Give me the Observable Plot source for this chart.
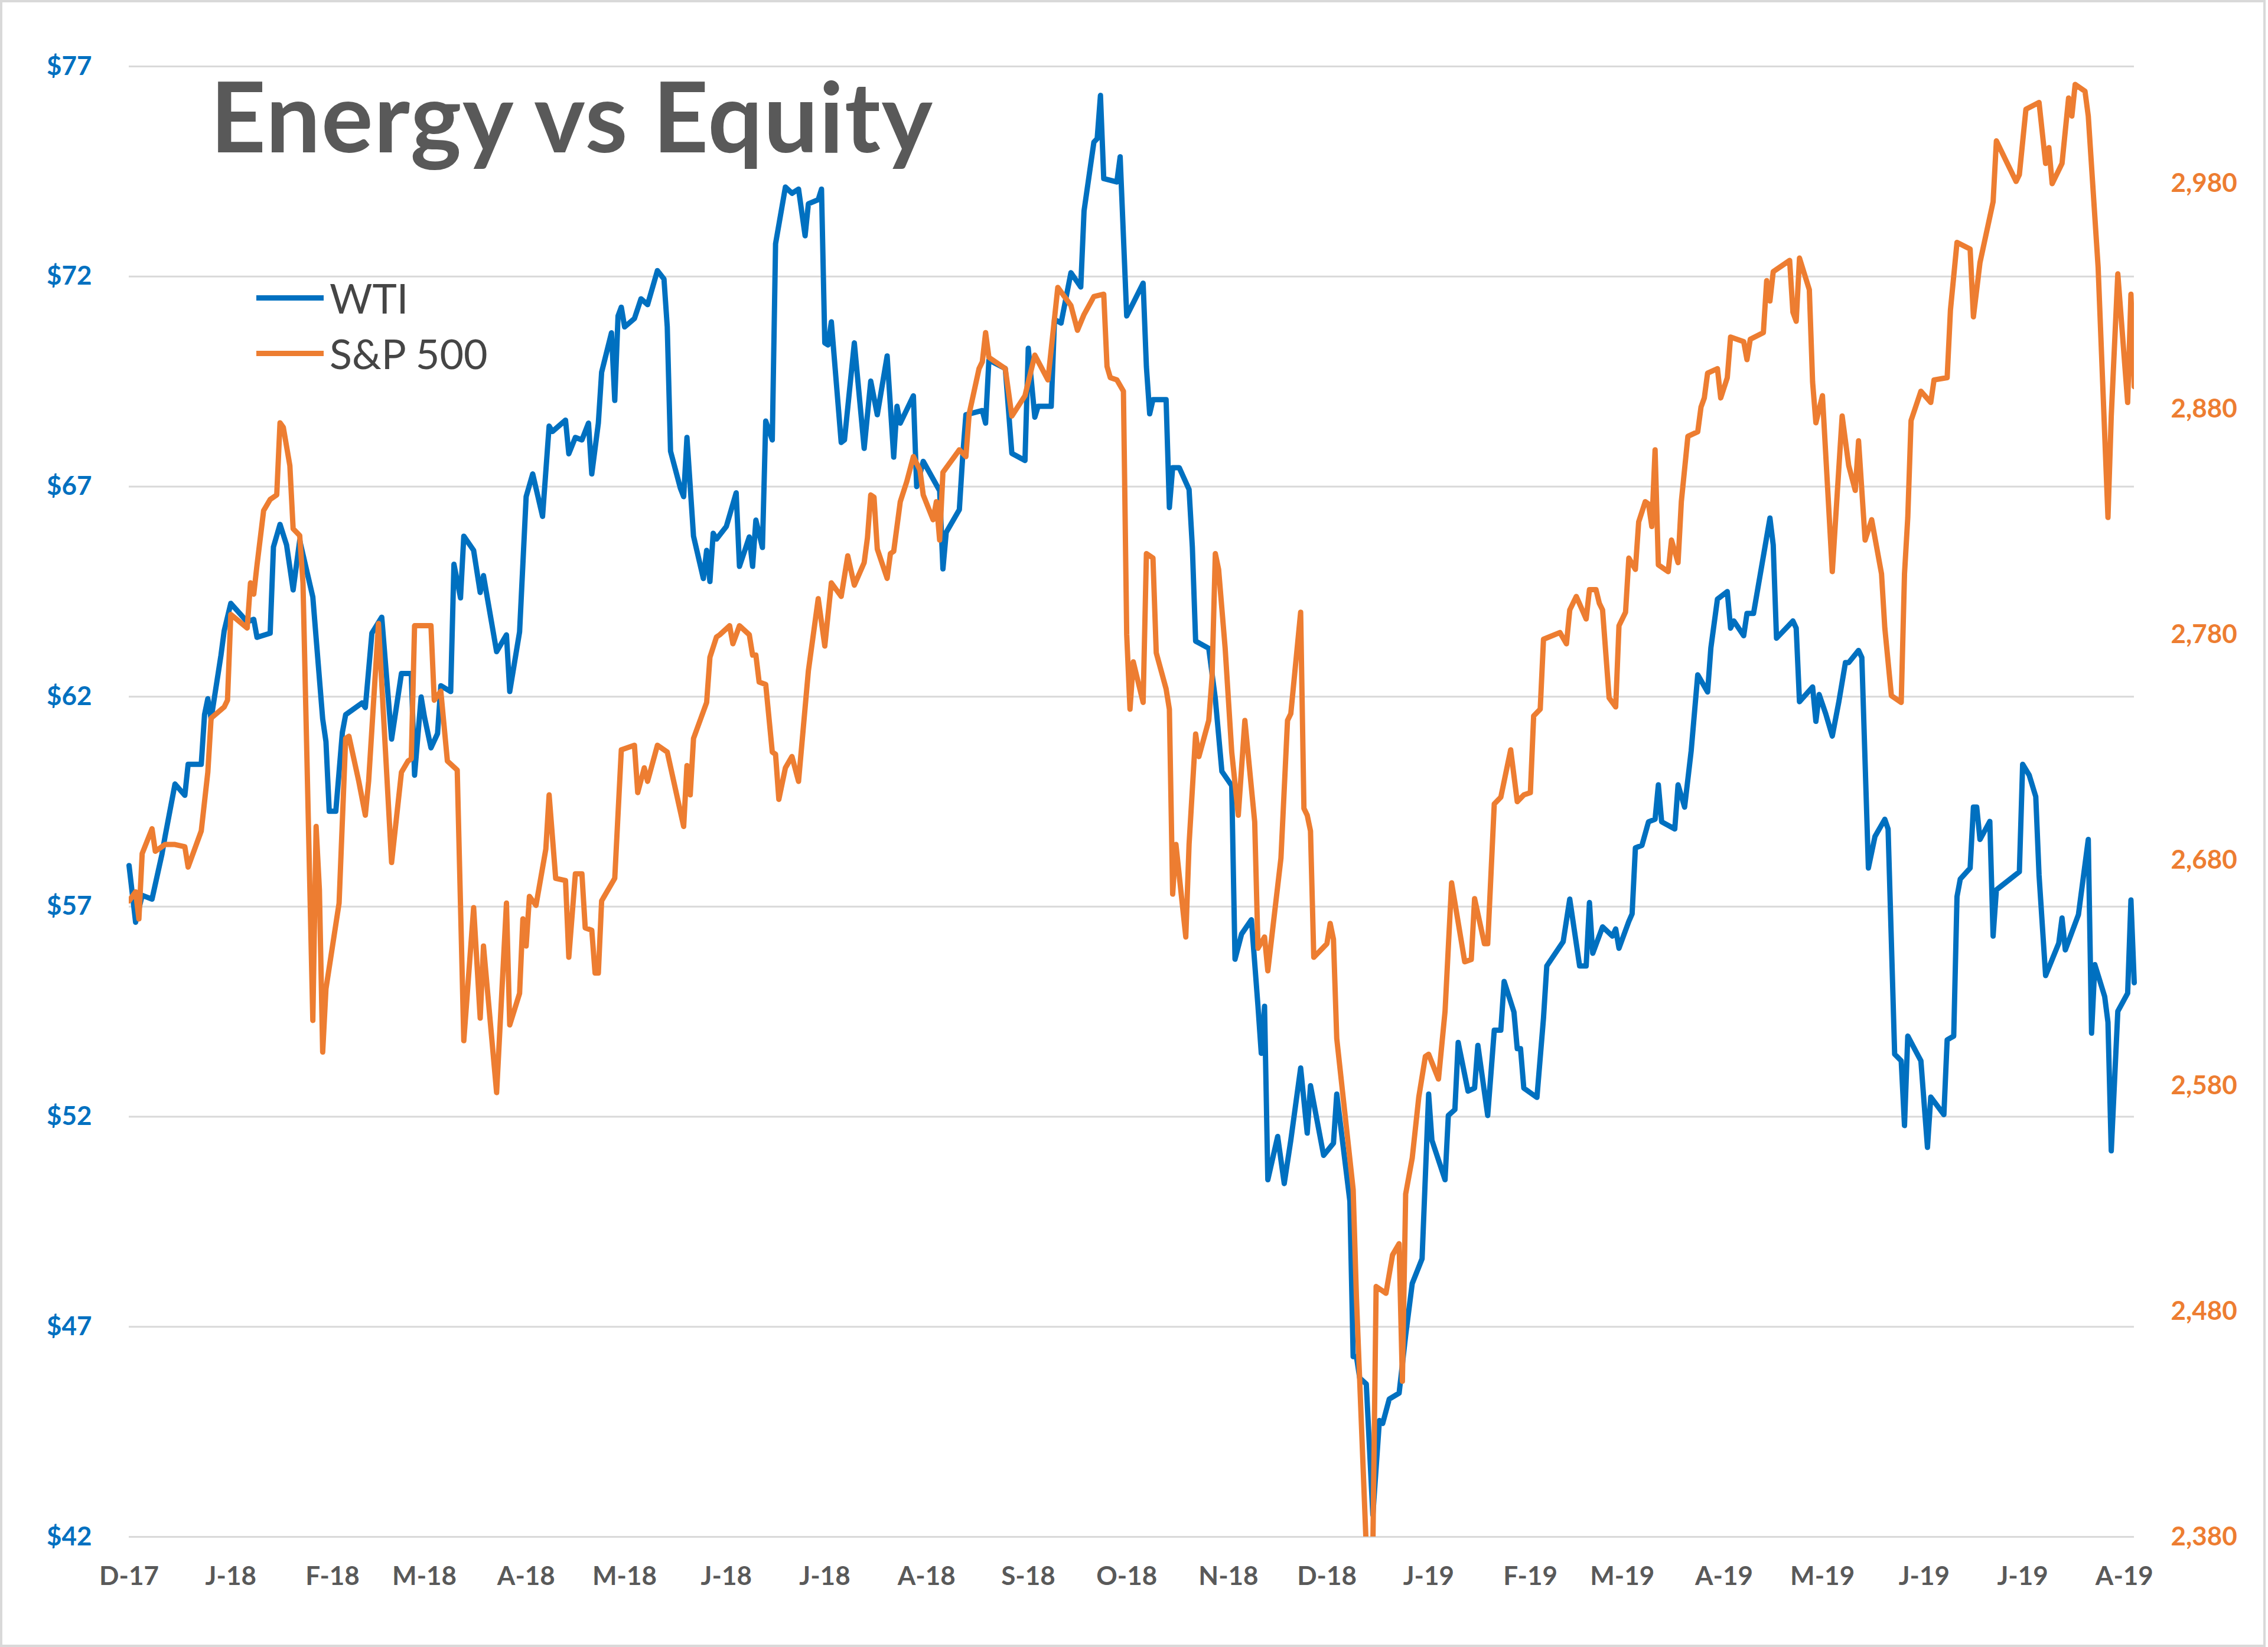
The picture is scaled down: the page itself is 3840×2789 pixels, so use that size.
<!DOCTYPE html>
<html>
<head>
<meta charset="utf-8">
<script src="https://cdn.jsdelivr.net/npm/d3@7"></script>
<script src="https://cdn.jsdelivr.net/npm/@observablehq/plot@0.6"></script>
<style>
html, body { margin: 0; padding: 0; background: #fff; }
#chart { position: relative; width: 3840px; height: 2789px; overflow: hidden; background: #fff; font-family: Lato, "Open Sans", sans-serif; }
#chart svg { position: absolute; left: 0; top: 0; }
#border { position: absolute; left: 0; top: 0; width: 3836px; height: 2789px; box-sizing: border-box; border: 4px solid #d9d9d9; pointer-events: none; }
#title { position: absolute; left: 356px; top: 113px; font: 700 164px Lato, sans-serif; line-height: 164px; letter-spacing: 1.5px; color: #595959; white-space: nowrap; }
.lg { position: absolute; left: 434px; display: flex; align-items: center; height: 70px; }
.lg .sw { width: 114px; height: 9px; margin-right: 10px; }
.lg .tx { font: 400 70px Lato, sans-serif; line-height: 70px; color: #454545; white-space: nowrap; }
</style>
</head>
<body>
<div id="chart"></div>
<script>
// ---- Data ----
// days counted from 2017-12-01
const wtiDay = [0,2,4,7,10,11,14,17,18,22,23,24,25,28,29,31,36,38,39,43,44,46,48,50,52,56,57,59,60,61,63,65,66,71,72,74,77,80,83,86,87,89,90,92,94,95,98,99,101,102,105,107,108,112,115,116,119,121,123,126,128,129,133,134,136,138,140,141,143,144,147,148,149,150,151,154,156,158,161,163,164,165,168,169,170,172,175,176,177,178,179,182,185,186,189,190,191,193,194,196,197,200,202,204,206,207,210,211,212,213,214,217,218,221,224,226,228,231,233,234,235,239,240,242,247,248,249,253,254,255,260,261,262,267,269,273,274,276,277,281,282,284,287,290,291,294,295,296,297,301,302,304,309,310,311,312,316,317,318,320,323,324,325,329,331,333,336,337,339,342,344,345,346,347,350,352,354,357,359,360,364,367,368,372,373,374,375,377,379,381,382,384,387,389,391,394,396,397,401,402,404,405,408,410,411,414,416,418,419,422,423,424,425,429,431,432,437,439,442,444,445,446,449,452,453,454,457,458,459,461,463,465,466,467,471,472,474,476,478,481,482,484,487,488,489,492,493,495,500,501,502,507,508,509,513,514,515,517,519,521,523,524,527,528,530,532,535,536,538,540,541,542,546,548,549,553,554,556,557,558,561,562,563,564,567,568,569,576,577,579,581,582,584,588,589,590,594,597,598,599,602,603,604,606,609,610,611];
const wtiPrice = [57.98,56.63,57.27,57.18,58.24,58.68,59.92,59.65,60.39,60.39,61.57,61.95,61.47,62.98,63.57,64.22,63.78,63.84,63.41,63.51,65.56,66.10,65.61,64.54,65.72,64.37,63.40,61.47,60.93,59.27,59.27,61.15,61.57,61.85,61.74,63.51,63.89,60.99,62.55,62.55,60.13,61.99,61.52,60.78,61.12,62.26,62.12,65.15,64.35,65.82,65.48,64.48,64.88,63.07,63.47,62.12,63.54,66.76,67.30,66.29,68.44,68.31,68.58,67.78,68.17,68.11,68.51,67.30,68.51,69.72,70.66,69.05,71.06,71.27,70.80,71.00,71.47,71.33,72.14,71.94,70.80,67.84,66.96,66.76,68.17,65.82,64.81,65.48,64.74,65.89,65.75,66.05,66.85,65.10,65.80,65.10,66.20,65.55,68.56,68.11,72.78,74.13,73.98,74.08,72.97,73.73,73.83,74.08,70.42,70.37,70.92,68.05,68.11,70.42,67.91,69.51,68.71,70.11,67.70,68.91,68.51,69.16,67.00,67.60,66.90,65.04,65.91,66.45,67.70,68.71,68.81,68.51,70.01,69.81,67.79,67.62,70.29,68.65,68.91,68.91,70.98,70.89,72.09,71.75,73.56,75.20,75.28,76.31,74.33,74.25,74.85,71.06,71.84,69.85,68.73,69.07,69.07,66.50,67.45,67.45,66.93,65.56,63.32,63.15,61.95,60.22,59.88,55.75,56.35,56.69,54.63,53.51,54.63,50.50,51.53,50.41,51.44,53.16,51.61,52.74,51.08,51.37,52.54,49.99,46.29,46.29,45.78,45.64,42.52,44.77,44.70,45.28,45.42,46.80,48.03,48.62,52.54,51.44,50.50,52.03,52.17,53.77,52.61,52.68,53.70,52.03,54.06,54.06,55.22,54.49,53.62,53.62,52.68,52.46,54.35,55.59,56.17,57.18,55.59,55.59,57.10,55.89,56.52,56.30,56.47,56.01,56.65,56.83,58.40,58.46,59.02,59.08,59.90,59.02,58.85,59.90,59.37,60.71,62.52,62.11,63.16,64.32,64.50,63.63,63.80,63.45,63.98,63.98,66.25,65.61,63.39,63.80,63.63,61.88,62.23,61.41,62.05,61.59,61.06,61.88,62.81,62.81,63.10,62.93,57.92,58.67,59.08,58.85,53.49,53.33,51.79,53.92,53.33,51.27,52.47,52.05,53.83,53.92,57.24,57.66,57.92,59.37,59.37,58.60,59.03,56.30,57.40,57.83,60.39,60.13,59.62,57.75,55.36,56.13,56.73,55.97,56.81,58.60,53.99,55.62,54.86,54.25,51.19,54.51,54.94,57.16,55.19];

const spxDay = [0,2,3,4,7,8,11,14,17,18,22,24,25,29,30,31,36,37,38,39,41,43,45,46,47,49,50,52,53,56,57,58,59,60,64,66,67,70,72,73,76,80,83,85,86,87,92,93,95,97,100,102,105,107,108,112,115,116,119,120,121,122,124,127,128,130,133,134,136,138,139,141,142,143,144,148,150,154,155,157,158,161,164,169,170,171,172,176,177,179,180,183,184,186,189,190,191,192,194,196,197,198,200,202,204,207,210,212,214,217,219,221,224,225,226,227,228,231,232,233,235,237,239,241,242,245,246,247,248,253,255,256,259,260,261,262,267,269,273,276,280,283,287,289,291,294,297,298,299,301,303,304,305,306,309,310,312,313,316,317,318,319,322,323,325,326,329,330,331,332,334,336,338,340,343,344,346,347,351,353,354,357,358,359,360,361,365,366,367,368,373,374,377,378,379,380,383,385,387,388,389,391,393,395,396,399,401,403,407,409,410,413,414,416,418,421,423,425,427,428,430,431,436,438,439,441,444,445,447,448,449,451,453,454,456,457,459,460,462,463,464,465,466,469,470,472,473,475,478,479,480,481,484,485,487,488,492,493,494,498,499,500,501,506,507,508,509,512,513,514,516,519,522,524,526,527,529,531,534,535,537,540,541,542,543,546,549,550,554,555,557,561,562,564,568,569,575,576,578,582,584,585,586,589,591,592,593,596,597,600,603,604,606,609,610,611];
const spxLevel = [2662,2666,2654,2683,2694,2684,2687,2687,2686,2677,2693,2719,2743,2748,2751,2789,2783,2803,2798,2811,2835,2840,2842,2874,2872,2855,2827,2824,2803,2609,2695,2667,2595,2623,2661,2734,2735,2715,2700,2715,2785,2679,2719,2724,2725,2784,2784,2751,2755,2724,2720,2600,2659,2610,2642,2577,2661,2607,2621,2654,2642,2664,2660,2685,2709,2672,2671,2637,2674,2674,2650,2649,2630,2630,2662,2672,2729,2731,2710,2721,2715,2731,2728,2695,2722,2709,2734,2750,2770,2779,2780,2784,2776,2784,2780,2771,2771,2759,2758,2728,2727,2707,2721,2726,2715,2764,2796,2775,2803,2797,2815,2802,2812,2823,2842,2841,2818,2805,2816,2817,2839,2848,2859,2853,2842,2831,2839,2822,2852,2862,2859,2878,2898,2901,2914,2903,2898,2877,2886,2904,2893,2934,2926,2915,2922,2930,2931,2899,2894,2893,2888,2780,2747,2768,2750,2816,2814,2772,2756,2747,2665,2687,2646,2687,2736,2726,2742,2761,2816,2809,2774,2728,2700,2742,2697,2641,2646,2631,2681,2742,2745,2790,2703,2700,2693,2637,2643,2652,2645,2601,2534,2486,2375,2351,2375,2491,2488,2505,2510,2449,2532,2548,2575,2593,2594,2583,2613,2670,2635,2636,2663,2643,2643,2705,2708,2729,2706,2709,2710,2744,2747,2778,2781,2776,2791,2797,2787,2800,2800,2794,2791,2752,2748,2784,2790,2814,2809,2830,2839,2838,2828,2862,2811,2808,2822,2812,2839,2868,2870,2881,2885,2896,2898,2885,2894,2912,2910,2902,2911,2914,2937,2928,2941,2946,2923,2919,2947,2933,2892,2874,2886,2808,2877,2855,2844,2866,2822,2831,2807,2783,2753,2750,2807,2832,2875,2888,2883,2893,2894,2924,2954,2951,2921,2945,2972,2999,2981,2984,3013,3016,2989,2996,2980,2989,3018,3010,3024,3021,3010,2943,2832,2877,2940,2883,2931,2890];

// axis ticks and labels
const wtiTicks = [42, 47, 52, 57, 62, 67, 72, 77];
const spxTicks = [2380, 2480, 2580, 2680, 2780, 2880, 2980];
const monthStarts = ["2017-12-01","2018-01-01","2018-02-01","2018-03-01","2018-04-01","2018-05-01","2018-06-01","2018-07-01","2018-08-01","2018-09-01","2018-10-01","2018-11-01","2018-12-01","2019-01-01","2019-02-01","2019-03-01","2019-04-01","2019-05-01","2019-06-01","2019-07-01","2019-08-01"];
const monthLabels = ["D-17","J-18","F-18","M-18","A-18","M-18","J-18","J-18","A-18","S-18","O-18","N-18","D-18","J-19","F-19","M-19","A-19","M-19","J-19","J-19","A-19"];
const seriesNames = ["WTI", "S&P 500"];
const seriesColors = ["#0070C0", "#ED7D31"];

// ---- Build ----
const start = Date.UTC(2017, 11, 1);
const dayToDate = d => new Date(start + d * 864e5);
const WTI_MIN = 42, WTI_MAX = 77, SPX_MIN = 2380, SPX_MAX = 3032;
const spxToY = v => WTI_MIN + (v - SPX_MIN) * (WTI_MAX - WTI_MIN) / (SPX_MAX - SPX_MIN);
const yToSpx = y => SPX_MIN + (y - WTI_MIN) * (SPX_MAX - SPX_MIN) / (WTI_MAX - WTI_MIN);

const wti = wtiDay.map((d, i) => ({date: dayToDate(d), value: wtiPrice[i]}));
const spx = spxDay.map((d, i) => ({date: dayToDate(d), value: spxLevel[i]}));
const monthTicks = monthStarts.map(s => new Date(s + "T00:00:00Z"));
const labelByTime = new Map(monthTicks.map((t, i) => [+t, monthLabels[i]]));

const chart = Plot.plot({
  width: 3840,
  height: 2789,
  marginLeft: 218,
  marginRight: 227,
  marginTop: 112,
  marginBottom: 187,
  style: {fontFamily: "Lato, 'Open Sans', sans-serif", fontSize: "44px", fontWeight: "700", background: "transparent"},
  x: {type: "utc", domain: [dayToDate(0), dayToDate(611)]},
  y: {domain: [WTI_MIN, WTI_MAX]},
  marks: [
    Plot.ruleY(wtiTicks, {stroke: "#d9d9d9", strokeWidth: 3}),
    Plot.axisY(wtiTicks, {anchor: "left", tickSize: 0, tickPadding: 63, tickFormat: d => "$" + d, color: seriesColors[0], label: null}),
    Plot.axisY(spxTicks.map(spxToY), {anchor: "right", tickSize: 0, tickPadding: 62, tickFormat: d => d3.format(",")(Math.round(yToSpx(d))), color: seriesColors[1], label: null}),
    Plot.axisX(monthTicks, {anchor: "bottom", tickSize: 0, tickPadding: 50, tickFormat: d => labelByTime.get(+d), color: "#595959", label: null}),
    Plot.line(wti, {x: "date", y: "value", stroke: seriesColors[0], strokeWidth: 9, strokeLinejoin: "round"}),
    Plot.line(spx, {x: "date", y: d => spxToY(d.value), stroke: seriesColors[1], strokeWidth: 9, strokeLinejoin: "round", clip: true})
  ]
});

const root = document.getElementById("chart");
root.appendChild(chart);

const title = document.createElement("div");
title.id = "title";
title.textContent = "Energy vs Equity";
root.appendChild(title);

const legendTops = [469, 563];
seriesNames.forEach((name, i) => {
  const row = document.createElement("div");
  row.className = "lg";
  row.style.top = legendTops[i] + "px";
  const sw = document.createElement("span");
  sw.className = "sw";
  sw.style.background = seriesColors[i];
  const tx = document.createElement("span");
  tx.className = "tx";
  tx.textContent = name;
  row.appendChild(sw);
  row.appendChild(tx);
  root.appendChild(row);
});

const border = document.createElement("div");
border.id = "border";
root.appendChild(border);
</script>
</body>
</html>
